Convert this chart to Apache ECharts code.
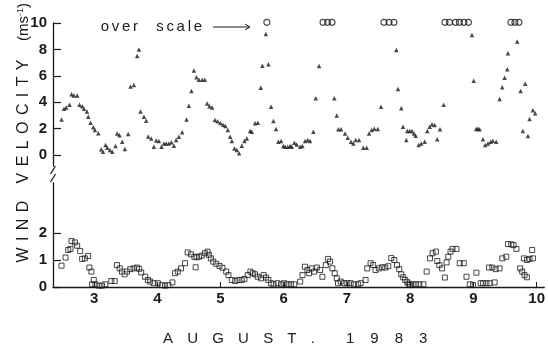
<!DOCTYPE html>
<html>
<head>
<meta charset="utf-8">
<script src="https://cdn.jsdelivr.net/npm/echarts@6/dist/echarts.min.js"></script>
<style>
  html, body { margin: 0; padding: 0; background: #fff; }
  #chart { width: 548px; height: 350px; }
</style>
</head>
<body>
<div id="chart"></div>
<script>
// Wind velocity, 2-10 August 1983 (time in days of August).
// Upper panel: triangles, 0-10 m/s scale.
const upperTimes = [
  2.485, 2.523, 2.559, 2.611, 2.643, 2.680, 2.732, 2.768, 2.811, 2.838,
  2.885, 2.906, 2.942, 2.984, 3.011, 3.063, 3.110, 3.137, 3.178, 3.205,
  3.247, 3.283, 3.335, 3.362, 3.398, 3.441, 3.483, 3.535, 3.572, 3.625,
  3.677, 3.704, 3.729, 3.783, 3.819, 3.850, 3.898, 3.940, 3.976, 4.019,
  4.060, 4.098, 4.134, 4.176, 4.217, 4.255, 4.291, 4.334, 4.386, 4.454,
  4.491, 4.532, 4.570, 4.611, 4.649, 4.701, 4.743, 4.780, 4.816, 4.858,
  4.901, 4.945, 4.989, 5.031, 5.067, 5.106, 5.142, 5.169, 5.209, 5.247,
  5.283, 5.326, 5.367, 5.405, 5.457, 5.483, 5.535, 5.578, 5.625, 5.650,
  5.704, 5.745, 5.787, 5.824, 5.866, 5.902, 5.945, 5.981, 6.008, 6.050,
  6.087, 6.113, 6.154, 6.192, 6.244, 6.280, 6.323, 6.365, 6.402, 6.454,
  6.491, 6.543, 6.784, 6.822, 6.847, 6.890, 6.953, 6.995, 7.047, 7.083,
  7.121, 7.173, 7.241, 7.294, 7.331, 7.373, 7.414, 7.468, 7.520, 7.761,
  7.787, 7.839, 7.866, 7.918, 7.934, 7.972, 8.008, 8.039, 8.066, 8.113,
  8.154, 8.208, 8.249, 8.287, 8.323, 8.365, 8.406, 8.449, 8.507, 8.953,
  8.980, 9.020, 9.047, 9.074, 9.126, 9.162, 9.205, 9.247, 9.283, 9.335,
  9.389, 9.430, 9.468, 9.509, 9.520, 9.666, 9.720, 9.756, 9.792, 9.835,
  9.861, 9.913, 9.950
];
const upperSpeeds = [
  2.70, 3.50, 3.60, 3.80, 4.60, 4.50, 4.50, 3.80, 3.70, 3.50,
  3.30, 2.90, 2.45, 2.10, 1.90, 1.65, 0.43, 0.25, 0.76, 0.55,
  0.38, 0.25, 0.68, 1.64, 1.50, 1.00, 0.45, 1.60, 5.20, 5.30,
  7.50, 8.00, 3.30, 2.90, 2.60, 1.40, 1.26, 0.63, 1.10, 1.06,
  0.63, 0.88, 0.88, 0.88, 0.96, 0.70, 1.14, 1.39, 1.72, 2.70,
  3.74, 4.85, 6.40, 5.90, 5.70, 5.70, 5.70, 3.90, 3.70, 3.60,
  2.65, 2.55, 2.42, 2.30, 2.20, 1.90, 1.39, 1.06, 0.50, 0.38,
  0.13, 0.70, 1.06, 1.26, 1.82, 1.77, 2.40, 2.45, 5.10, 6.77,
  9.17, 6.87, 3.66, 2.58, 1.97, 1.00, 1.06, 0.68, 0.63, 0.63,
  0.68, 0.63, 0.93, 0.80, 0.63, 0.68, 1.06, 1.14, 1.06, 1.77,
  4.30, 6.74, 4.30, 3.00, 1.95, 1.95, 1.64, 1.31, 1.00, 0.88,
  1.14, 1.14, 0.55, 0.55, 1.64, 1.90, 2.00, 1.97, 3.66, 7.95,
  5.00, 3.54, 2.14, 1.14, 1.82, 1.82, 1.82, 1.64, 1.46, 0.76,
  0.88, 1.00, 1.82, 2.14, 2.33, 2.27, 1.20, 1.95, 3.80, 9.10,
  5.63, 1.97, 2.00, 1.95, 1.20, 0.76, 0.88, 1.00, 1.08, 1.00,
  4.24, 5.13, 5.86, 6.50, 7.70, 8.60, 4.85, 1.82, 5.40, 1.44,
  2.73, 3.40, 3.16
];

// Readings above 10 m/s, drawn as open circles along the top of the scale.
const overScaleTimes = [
  5.72, 6.606, 6.677, 6.748, 7.567, 7.646, 7.724,
  8.528, 8.598, 8.693, 8.756, 8.827, 8.898, 9.567, 9.630, 9.693
];
const overScaleLevel = 10.05;

// Lower panel: squares, expanded 0-2 m/s scale.
const lowerTimes = [
  2.485, 2.548, 2.591, 2.627, 2.643, 2.696, 2.732, 2.780, 2.811, 2.854,
  2.906, 2.926, 2.957, 2.969, 2.995, 3.020, 3.074, 3.126, 3.178, 3.272,
  3.326, 3.362, 3.405, 3.441, 3.483, 3.520, 3.572, 3.625, 3.677, 3.713,
  3.745, 3.808, 3.850, 3.887, 3.940, 4.008, 4.071, 4.123, 4.176, 4.239,
  4.280, 4.323, 4.375, 4.438, 4.480, 4.532, 4.586, 4.606, 4.622, 4.658,
  4.701, 4.753, 4.795, 4.816, 4.847, 4.885, 4.932, 4.984, 5.031, 5.090,
  5.126, 5.178, 5.231, 5.283, 5.335, 5.378, 5.430, 5.472, 5.509, 5.546,
  5.587, 5.641, 5.682, 5.720, 5.756, 5.798, 5.839, 5.902, 5.956, 6.008,
  6.060, 6.113, 6.165, 6.260, 6.296, 6.334, 6.375, 6.402, 6.438, 6.480,
  6.523, 6.575, 6.611, 6.665, 6.701, 6.732, 6.769, 6.806, 6.838, 6.858,
  6.901, 6.953, 7.005, 7.058, 7.110, 7.173, 7.216, 7.294, 7.320, 7.373,
  7.414, 7.452, 7.504, 7.556, 7.606, 7.654, 7.701, 7.748, 7.791, 7.827,
  7.858, 7.890, 7.921, 7.953, 7.976, 7.997, 8.039, 8.091, 8.145, 8.208,
  8.260, 8.313, 8.354, 8.406, 8.428, 8.461, 8.504, 8.548, 8.575, 8.602,
  8.638, 8.669, 8.732, 8.784, 8.847, 8.890, 8.942, 8.995, 9.047, 9.115,
  9.153, 9.205, 9.257, 9.335, 9.247, 9.299, 9.351, 9.414, 9.457, 9.520,
  9.546, 9.598, 9.635, 9.680, 9.740, 9.772, 9.808, 9.846, 9.798, 9.846,
  9.887, 9.941, 9.929
];
const lowerSpeeds = [
  0.79, 1.09, 1.37, 1.41, 1.70, 1.65, 1.53, 1.33, 1.04, 1.06,
  1.15, 0.72, 0.57, 0.10, 0.26, 0.10, 0.05, 0.05, 0.10, 0.22,
  0.22, 0.81, 0.69, 0.57, 0.47, 0.57, 0.66, 0.69, 0.72, 0.67,
  0.54, 0.38, 0.26, 0.20, 0.14, 0.14, 0.07, 0.05, 0.07, 0.17,
  0.51, 0.57, 0.69, 0.88, 1.28, 1.21, 1.12, 0.73, 1.10, 1.12,
  1.16, 1.25, 1.31, 1.19, 1.06, 0.94, 0.86, 0.78, 0.71, 0.57,
  0.44, 0.26, 0.22, 0.26, 0.26, 0.30, 0.44, 0.57, 0.51, 0.47,
  0.38, 0.32, 0.44, 0.35, 0.26, 0.14, 0.10, 0.14, 0.10, 0.14,
  0.10, 0.10, 0.10, 0.20, 0.44, 0.75, 0.63, 0.51, 0.69, 0.57,
  0.72, 0.63, 0.38, 0.81, 1.04, 0.94, 0.69, 0.51, 0.32, 0.14,
  0.20, 0.14, 0.14, 0.14, 0.10, 0.10, 0.14, 0.26, 0.69, 0.88,
  0.81, 0.63, 0.69, 0.73, 0.72, 0.77, 1.07, 1.00, 0.81, 0.66,
  0.47, 0.36, 0.26, 0.18, 0.12, 0.07, 0.10, 0.10, 0.10, 0.10,
  0.57, 1.06, 1.25, 1.31, 0.96, 0.81, 0.69, 0.35, 0.91, 1.12,
  1.31, 1.41, 1.41, 0.88, 0.88, 0.38, 0.10, 0.07, 0.53, 0.14,
  0.14, 0.14, 0.14, 0.17, 0.72, 0.72, 0.66, 0.69, 1.06, 1.12,
  1.59, 1.58, 1.55, 1.41, 0.69, 0.57, 0.44, 0.36, 1.06, 1.00,
  1.04, 1.06, 1.37
];

// Tick positions
const dayTicks = [3, 4, 5, 6, 7, 8, 9, 10];
const upperTicks = [0, 2, 4, 6, 8, 10];
const lowerTicks = [0, 1, 2];

const INK = '#1a1a1a';
const FONT = '"Liberation Sans", Arial, Helvetica, sans-serif';

const zip = (xs, ys) => xs.map((x, i) => [x, ys[i]]);

// Letter-spaced text: each glyph placed separately with extra tracking.
// (x, y) is the start of the run; vertical runs read bottom-to-top.
const measure = document.createElement('canvas').getContext('2d');
function tracked(str, x, y, size, track, vertical) {
  measure.font = size + 'px ' + FONT;
  const out = [];
  let pos = 0;
  for (const ch of str) {
    const w = measure.measureText(ch).width;
    const c = pos + w / 2;
    pos += w + track;
    if (ch === ' ') continue;
    out.push({
      type: 'text',
      x: vertical ? x : x + c,
      y: vertical ? y - c : y,
      rotation: vertical ? Math.PI / 2 : 0,
      style: {
        text: ch, fill: INK, fontSize: size, fontFamily: FONT,
        align: 'center', verticalAlign: 'middle'
      }
    });
  }
  return out;
}

const labelStyle = { color: INK, fontSize: 15, fontWeight: 'bold', fontFamily: FONT };
const axisLine = { show: true, lineStyle: { color: INK, width: 1.3 } };

const chart = echarts.init(document.getElementById('chart'), null, { renderer: 'canvas' });

chart.setOption({
  animation: false,
  backgroundColor: '#fff',
  grid: [
    { left: 53, top: 23, width: 493, height: 143 },
    { left: 53, top: 183, width: 493, height: 104 }
  ],
  xAxis: [
    { gridIndex: 0, type: 'value', min: 2.35, max: 10.12, show: false },
    {
      gridIndex: 1, type: 'value', min: 2.35, max: 10.12,
      axisLine: axisLine,
      axisTick: { show: true, inside: true, length: 5, customValues: dayTicks, lineStyle: { color: INK, width: 1 } },
      axisLabel: { customValues: dayTicks, margin: 4, ...labelStyle },
      splitLine: { show: false }
    }
  ],
  yAxis: [
    {
      gridIndex: 0, type: 'value', min: -0.83, max: 10,
      axisLine: axisLine,
      axisTick: { show: true, inside: true, length: 8, customValues: upperTicks, lineStyle: { color: INK, width: 1.2 } },
      axisLabel: { customValues: upperTicks, margin: 6, ...labelStyle },
      splitLine: { show: false }
    },
    {
      gridIndex: 1, type: 'value', min: 0, max: 3.85,
      axisLine: axisLine,
      axisTick: { show: true, inside: true, length: 8, customValues: lowerTicks, lineStyle: { color: INK, width: 1.2 } },
      axisLabel: { customValues: lowerTicks, margin: 6, ...labelStyle },
      splitLine: { show: false }
    }
  ],
  series: [
    {
      name: 'upper', type: 'scatter', xAxisIndex: 0, yAxisIndex: 0,
      data: zip(upperTimes, upperSpeeds),
      symbol: 'triangle', symbolSize: 4.5,
      itemStyle: { color: INK }
    },
    {
      name: 'over scale', type: 'scatter', xAxisIndex: 0, yAxisIndex: 0,
      data: overScaleTimes.map(t => [t, overScaleLevel]),
      symbol: 'circle', symbolSize: 6,
      itemStyle: { color: 'rgba(255,255,255,0)', borderColor: INK, borderWidth: 1.1 },
      clip: false
    },
    {
      name: 'lower', type: 'scatter', xAxisIndex: 1, yAxisIndex: 1,
      data: zip(lowerTimes, lowerSpeeds),
      symbol: 'rect', symbolSize: 5,
      itemStyle: { color: 'rgba(255,255,255,0)', borderColor: INK, borderWidth: 1 }
    }
  ],
  graphic: [
    // axis break marks
    { type: 'line', shape: { x1: 50.5, y1: 174, x2: 55.5, y2: 166 }, style: { stroke: INK, lineWidth: 1.2 } },
    { type: 'line', shape: { x1: 50.5, y1: 182, x2: 55.5, y2: 174 }, style: { stroke: INK, lineWidth: 1.2 } },
    // "over scale" note with arrow
    ...tracked('over', 100.8, 27, 15, 2.7, false),
    ...tracked('scale', 156.2, 27, 15, 2.7, false),
    { type: 'line', shape: { x1: 213, y1: 27, x2: 250, y2: 27 }, style: { stroke: INK, lineWidth: 1 } },
    { type: 'polyline', shape: { points: [[245, 24], [250, 27], [245, 30]] }, style: { stroke: INK, lineWidth: 1, fill: null } },
    // axis titles
    ...tracked('AUGUST.', 163, 339, 15, 14.2, false),
    ...tracked('1983', 346, 339, 15, 16, false),
    ...tracked('WIND VELOCITY', 24, 262.5, 16, 6.4, true),
    {
      type: 'text', x: 24, y: 22, rotation: Math.PI / 2,
      style: {
        text: '(ms{sup|-1})', fill: INK, fontSize: 15, fontFamily: FONT,
        align: 'center', verticalAlign: 'middle',
        rich: { sup: { fontSize: 9, fontFamily: FONT, fill: INK, verticalAlign: 'top' } }
      }
    }
  ]
});
</script>
</body>
</html>
